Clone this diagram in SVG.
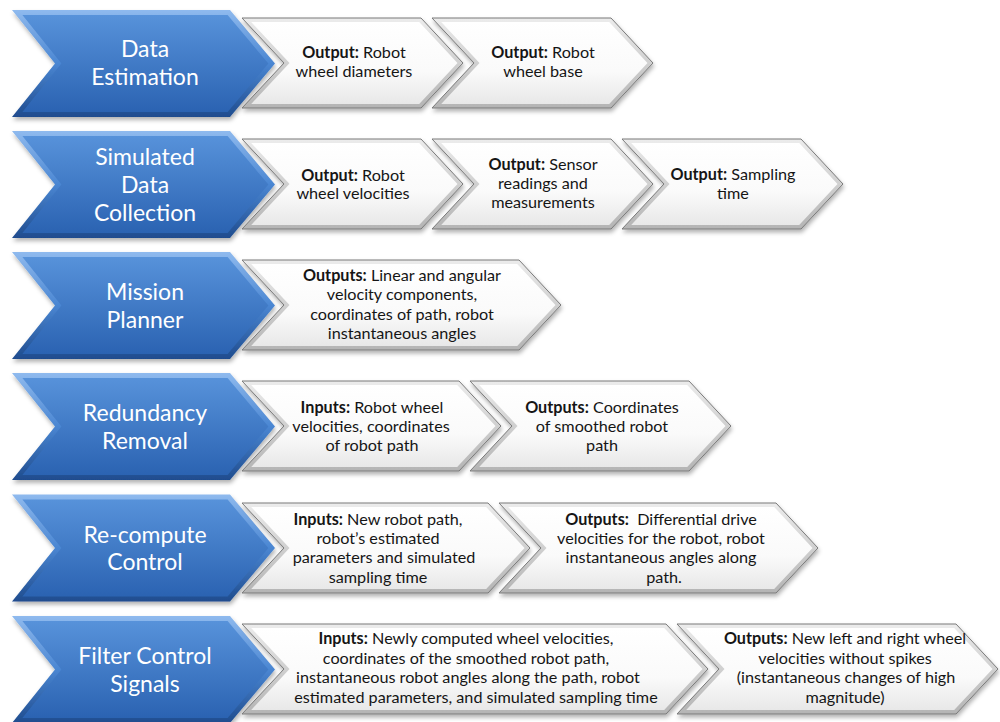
<svg xmlns="http://www.w3.org/2000/svg" width="1000" height="722" viewBox="0 0 1000 722">
<style>
.bo{fill:url(#bEdge)}
.bi{fill:url(#bFace)}
.wo{fill:url(#wEdge);stroke:#7a7a7a;stroke-width:1}
.wi{fill:url(#wFace)}
.lbl{font-family:Lato,"Open Sans",sans-serif;font-size:23px;fill:#ffffff;text-anchor:middle}
.t{font-family:Lato,"Open Sans",sans-serif;font-size:16.2px;fill:#151515;text-anchor:middle}
.b{font-weight:bold}
</style>
<defs>
<linearGradient id="bEdge" x1="0" y1="0" x2="0" y2="1">
<stop offset="0" stop-color="#8fbaee"/><stop offset="0.5" stop-color="#4a86d2"/><stop offset="1" stop-color="#1f4c8e"/>
</linearGradient>
<linearGradient id="bFace" x1="0" y1="0" x2="0" y2="1">
<stop offset="0" stop-color="#5792da"/><stop offset="1" stop-color="#2b63b2"/>
</linearGradient>
<linearGradient id="wEdge" x1="0" y1="0" x2="0" y2="1">
<stop offset="0" stop-color="#ececec"/><stop offset="1" stop-color="#b4b4b4"/>
</linearGradient>
<linearGradient id="wFace" x1="0" y1="0" x2="0" y2="1">
<stop offset="0" stop-color="#ffffff"/><stop offset="0.6" stop-color="#fafafa"/><stop offset="1" stop-color="#e8e8e8"/>
</linearGradient>
<filter id="sh" x="-5%" y="-15%" width="115%" height="140%">
<feDropShadow dx="1" dy="3" stdDeviation="2" flood-color="#000" flood-opacity="0.3"/>
</filter>
<path id="blueOut" d="M12,-53.5 H230 L275,0 L230,53.5 H12 L55,0 Z"/>
<path id="blueIn" d="M22.4,-48.5 H227.6 L268.4,0 L227.6,48.5 H22.4 L61.4,0 Z"/>
<path id="w221o" d="M0,-45 H179 L221,0 L179,45 H0 L42,0 Z"/>
<path id="w221i" d="M9.2,-41 H177.2 L215.5,0 L177.2,41 H9.2 L47.5,0 Z"/>
</defs>
<rect width="1000" height="722" fill="#ffffff"/>

<g id="connectors"></g>

<!-- Row 1 -->
<g id="data-estimation" transform="translate(0,63.5)">
<use href="#blueOut" class="bo" filter="url(#sh)"/>
<use href="#blueIn" class="bi"/>
<text class="lbl" x="145" y="-6.5">Data</text>
<text class="lbl" x="145" y="21.5">Estimation</text>
</g>
<g id="out-wheel-diameters">
<g transform="translate(242,63)"><use href="#w221o" class="wo" filter="url(#sh)"/><use href="#w221i" class="wi"/></g>
<text class="t" x="354" y="57.5"><tspan class="b">Output:</tspan> Robot</text>
<text class="t" x="354" y="76.5">wheel diameters</text>
</g>
<g id="out-wheel-base">
<g transform="translate(432,63)"><use href="#w221o" class="wo" filter="url(#sh)"/><use href="#w221i" class="wi"/></g>
<text class="t" x="543" y="57.5"><tspan class="b">Output:</tspan> Robot</text>
<text class="t" x="543" y="76.5">wheel base</text>
</g>

<!-- Row 2 -->
<g id="simulated-data-collection" transform="translate(0,184.5)">
<use href="#blueOut" class="bo" filter="url(#sh)"/>
<use href="#blueIn" class="bi"/>
<text class="lbl" x="145" y="-20">Simulated</text>
<text class="lbl" x="145" y="8">Data</text>
<text class="lbl" x="145" y="36">Collection</text>
</g>
<g id="out-wheel-velocities">
<g transform="translate(242,184)"><use href="#w221o" class="wo" filter="url(#sh)"/><use href="#w221i" class="wi"/></g>
<text class="t" x="353" y="180.5"><tspan class="b">Output:</tspan> Robot</text>
<text class="t" x="353" y="198.5">wheel velocities</text>
</g>
<g id="out-sensor-readings">
<g transform="translate(432,184)"><use href="#w221o" class="wo" filter="url(#sh)"/><use href="#w221i" class="wi"/></g>
<text class="t" x="543" y="169.5"><tspan class="b">Output:</tspan> Sensor</text>
<text class="t" x="543" y="188.5">readings and</text>
<text class="t" x="543" y="207.5">measurements</text>
</g>
<g id="out-sampling-time">
<g transform="translate(622,184)"><use href="#w221o" class="wo" filter="url(#sh)"/><use href="#w221i" class="wi"/></g>
<text class="t" x="733" y="179.5"><tspan class="b">Output:</tspan> Sampling</text>
<text class="t" x="733" y="198.5">time</text>
</g>

<!-- Row 3 -->
<g id="mission-planner" transform="translate(0,305.5)">
<use href="#blueOut" class="bo" filter="url(#sh)"/>
<use href="#blueIn" class="bi"/>
<text class="lbl" x="145" y="-6">Mission</text>
<text class="lbl" x="145" y="22">Planner</text>
</g>
<g id="out-velocity-components">
<g transform="translate(242,305)">
<path class="wo" filter="url(#sh)" d="M0,-45 H277 L319,0 L277,45 H0 L42,0 Z"/>
<path class="wi" d="M9.2,-41 H275.2 L313.5,0 L275.2,41 H9.2 L47.5,0 Z"/>
</g>
<text class="t" x="402" y="280.5"><tspan class="b">Outputs:</tspan> Linear and angular</text>
<text class="t" x="402" y="299.5">velocity components,</text>
<text class="t" x="402" y="319.5">coordinates of path, robot</text>
<text class="t" x="402" y="338.5">instantaneous angles</text>
</g>

<!-- Row 4 -->
<g id="redundancy-removal" transform="translate(0,426.5)">
<use href="#blueOut" class="bo" filter="url(#sh)"/>
<use href="#blueIn" class="bi"/>
<text class="lbl" x="145" y="-6">Redundancy</text>
<text class="lbl" x="145" y="22">Removal</text>
</g>
<g id="in-robot-wheel-velocities">
<g transform="translate(242,426)">
<path class="wo" filter="url(#sh)" d="M0,-45 H217 L259,0 L217,45 H0 L42,0 Z"/>
<path class="wi" d="M9.2,-41 H215.2 L253.5,0 L215.2,41 H9.2 L47.5,0 Z"/>
</g>
<text class="t" x="372" y="412.5"><tspan class="b">Inputs:</tspan> Robot wheel</text>
<text class="t" x="371" y="431.5">velocities, coordinates</text>
<text class="t" x="372" y="450.5">of robot path</text>
</g>
<g id="out-smoothed-path">
<g transform="translate(470,426)">
<path class="wo" filter="url(#sh)" d="M0,-45 H219 L261,0 L219,45 H0 L42,0 Z"/>
<path class="wi" d="M9.2,-41 H217.2 L255.5,0 L217.2,41 H9.2 L47.5,0 Z"/>
</g>
<text class="t" x="602" y="412.5"><tspan class="b">Outputs:</tspan> Coordinates</text>
<text class="t" x="602" y="431.5">of smoothed robot</text>
<text class="t" x="602" y="450.5">path</text>
</g>

<!-- Row 5 -->
<g id="recompute-control" transform="translate(0,548)">
<use href="#blueOut" class="bo" filter="url(#sh)"/>
<use href="#blueIn" class="bi"/>
<text class="lbl" x="145" y="-5.5">Re-compute</text>
<text class="lbl" x="145" y="21.5">Control</text>
</g>
<g id="in-new-robot-path">
<g transform="translate(242,548)">
<path class="wo" filter="url(#sh)" d="M0,-45 H246 L288,0 L246,45 H0 L42,0 Z"/>
<path class="wi" d="M9.2,-41 H244.2 L282.5,0 L244.2,41 H9.2 L47.5,0 Z"/>
</g>
<text class="t" x="378" y="524.5"><tspan class="b">Inputs:</tspan> New robot path,</text>
<text class="t" x="378" y="543.5">robot’s estimated</text>
<text class="t" x="384" y="562.5">parameters and simulated</text>
<text class="t" x="378" y="582.5">sampling time</text>
</g>
<g id="out-differential-velocities">
<g transform="translate(499,548)">
<path class="wo" filter="url(#sh)" d="M0,-45 H277 L319,0 L277,45 H0 L42,0 Z"/>
<path class="wi" d="M9.2,-41 H275.2 L313.5,0 L275.2,41 H9.2 L47.5,0 Z"/>
</g>
<text class="t" x="661" y="524.5" xml:space="preserve"><tspan class="b">Outputs:</tspan>  Differential drive</text>
<text class="t" x="661" y="543.5">velocities for the robot, robot</text>
<text class="t" x="661" y="562.5">instantaneous angles along</text>
<text class="t" x="664" y="582.5">path.</text>
</g>

<!-- Row 6 -->
<g id="filter-control-signals" transform="translate(0,669.5)">
<use href="#blueOut" class="bo" filter="url(#sh)"/>
<use href="#blueIn" class="bi"/>
<text class="lbl" x="145" y="-6">Filter Control</text>
<text class="lbl" x="145" y="22">Signals</text>
</g>
<g id="in-newly-computed">
<g transform="translate(242,669)">
<path class="wo" filter="url(#sh)" d="M0,-45 H424 L466,0 L424,45 H0 L42,0 Z"/>
<path class="wi" d="M9.2,-41 H422.2 L460.5,0 L422.2,41 H9.2 L47.5,0 Z"/>
</g>
<text class="t" x="466" y="643.5"><tspan class="b">Inputs:</tspan> Newly computed wheel velocities,</text>
<text class="t" x="466" y="663.5">coordinates of the smoothed robot path,</text>
<text class="t" x="468" y="682.5">instantaneous robot angles along the path, robot</text>
<text class="t" x="476" y="702.5">estimated parameters, and simulated sampling time</text>
</g>
<g id="out-left-right-velocities">
<g transform="translate(677,669)">
<path class="wo" filter="url(#sh)" d="M0,-45 H279 L321,0 L279,45 H0 L42,0 Z"/>
<path class="wi" d="M9.2,-41 H277.2 L315.5,0 L277.2,41 H9.2 L47.5,0 Z"/>
</g>
<text class="t" x="845" y="643.5"><tspan class="b">Outputs:</tspan> New left and right wheel</text>
<text class="t" x="845" y="663.5">velocities without spikes</text>
<text class="t" x="846" y="682.5">(instantaneous changes of high</text>
<text class="t" x="845" y="702.5">magnitude)</text>
</g>
</svg>
